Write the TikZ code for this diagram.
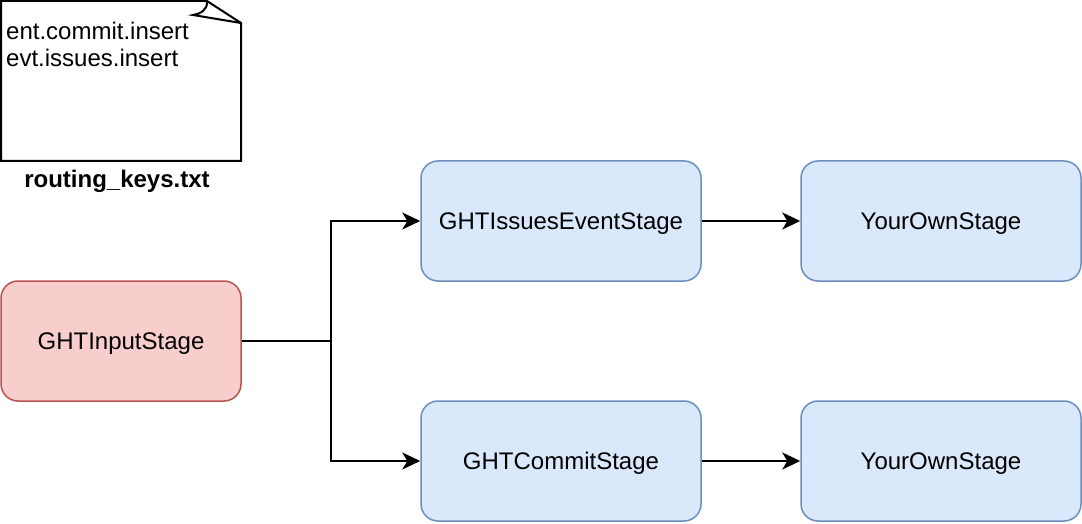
\documentclass[tikz,border=0pt]{standalone}
\usepackage{fontspec}
\setmainfont{Liberation Sans}
\usetikzlibrary{arrows.meta}
\definecolor{redfill}{HTML}{F8CECC}
\definecolor{redline}{HTML}{B85450}
\definecolor{bluefill}{HTML}{DAE8FC}
\definecolor{blueline}{HTML}{6C8EBF}
\tikzset{
  stagebox/.style={draw=blueline, fill=bluefill, line width=1.5pt, rounded corners=17pt,
    minimum width=280pt, minimum height=120pt, inner sep=0pt, text height=20pt, text depth=4pt,
    font=\fontsize{24pt}{28pt}\selectfont},
  inbox/.style={stagebox, draw=redline, fill=redfill, minimum width=240pt},
  edge/.style={draw=black, line width=2pt, -{Stealth[length=18pt,width=17pt,inset=5pt]}},
  notetext/.style={font=\fontsize{24pt}{27pt}\selectfont, align=left, inner sep=0pt, anchor=north west},
}
\begin{document}
\begin{tikzpicture}[x=1pt,y=-1pt]
\useasboundingbox (0,0) rectangle (1082,524);
% note
\draw[line width=2pt, fill=white, line join=miter]
  (1,1) -- (207,1) -- (241,23) -- (241,161) -- (1,161) -- cycle;
\draw[line width=2pt] (207,1) .. controls (208,10) and (200,14) .. (193,15) -- (241,23);
\node[notetext] (notetxt) at (6,22) {ent.commit.insert\\evt.issues.insert};
\node[font=\bfseries\fontsize{24pt}{28pt}\selectfont, inner sep=0pt, anchor=base] (notelabel) at (117,187) {routing\_keys.txt};
% stages
\node[inbox] (in) at (121,341) {GHTInputStage};
\node[stagebox] (issues) at (561,221) {GHTIssuesEventStage};
\node[stagebox] (own1) at (941,221) {YourOwnStage};
\node[stagebox] (commit) at (561,461) {GHTCommitStage};
\node[stagebox] (own2) at (941,461) {YourOwnStage};
% edges
\coordinate (split) at (331,341);
\draw[edge] (in.east) -- (split) |- (issues.west);
\draw[edge] (in.east) -- (split) |- (commit.west);
\draw[edge] (issues.east) -- (own1.west);
\draw[edge] (commit.east) -- (own2.west);
\end{tikzpicture}
\end{document}
